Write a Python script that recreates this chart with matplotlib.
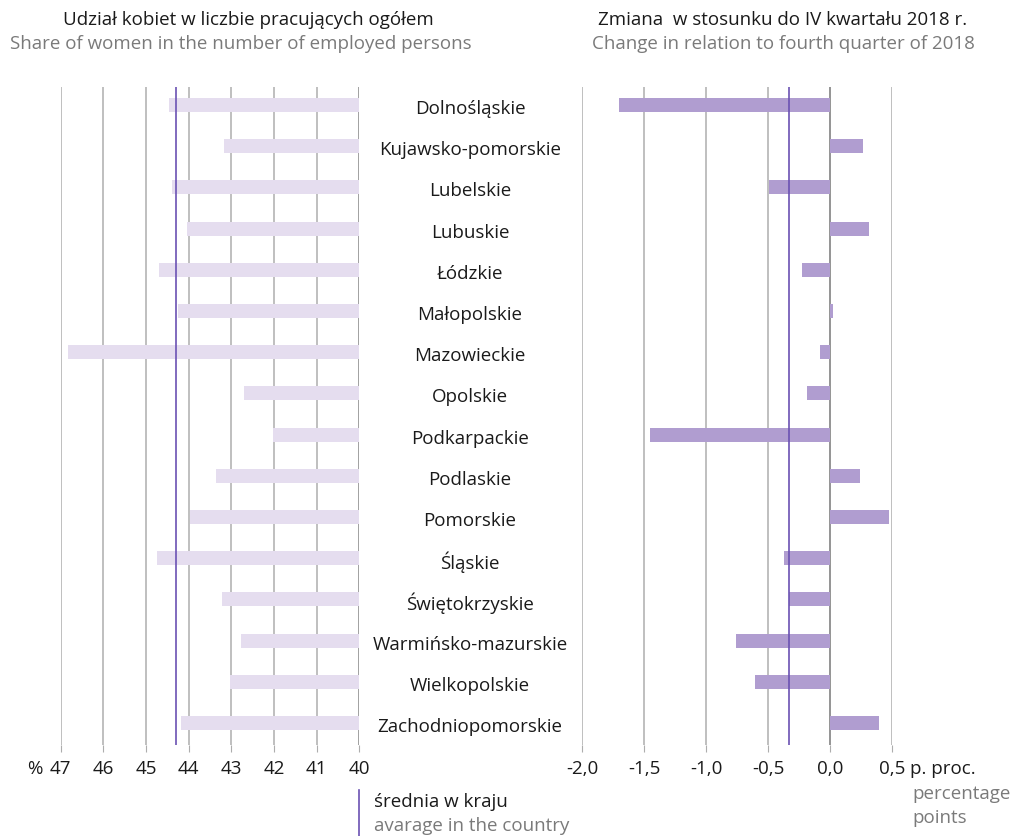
import numpy as np
import matplotlib
matplotlib.use("Agg")
import matplotlib.pyplot as plt
from matplotlib.ticker import FuncFormatter

plt.rcParams['font.family'] = ['Open Sans', 'DejaVu Sans']

regions = ["Dolnośląskie", "Kujawsko-pomorskie", "Lubelskie", "Lubuskie", "Łódzkie",
           "Małopolskie", "Mazowieckie", "Opolskie", "Podkarpackie", "Podlaskie",
           "Pomorskie", "Śląskie", "Świętokrzyskie", "Warmińsko-mazurskie",
           "Wielkopolskie", "Zachodniopomorskie"]
share = [44.45, 43.17, 44.38, 44.04, 44.69, 44.24, 46.83, 42.70,
         42.02, 43.36, 43.98, 44.74, 43.23, 42.78, 43.02, 44.18]
change = [-1.70, 0.26, -0.49, 0.31, -0.23, 0.02, -0.08, -0.19,
          -1.45, 0.24, 0.47, -0.37, -0.33, -0.76, -0.61, 0.39]
share_avg = 44.3
change_avg = -0.33

left_ticks = [47, 46, 45, 44, 43, 42, 41, 40]
right_ticks = [-2.0, -1.5, -1.0, -0.5, 0.0, 0.5]

light_bar = "#e5ddef"
dark_bar = "#b09dd0"
avg_col = "#6b52b3"
grid_col = "#adadad"
txt_gray = "#7a7a7a"
txt_dark = "#1a1a1a"
fs = 13.5

fig = plt.figure(figsize=(10.16, 8.36), dpi=100)
W, H = 1016, 836

def ax_rect(x0, x1, y0=87, y1=745):
    return [x0 / W, 1 - y1 / H, (x1 - x0) / W, (y1 - y0) / H]

ax1 = fig.add_axes(ax_rect(60.7, 359.3))
ax2 = fig.add_axes(ax_rect(582, 892.3))

y = np.arange(len(regions))
ylim = (15.534, -0.437)

# left panel
base = 40
ax1.barh(y, np.array(share) - base, left=base, height=0.34, color=light_bar, zorder=2)
ax1.set_xlim(47, 40)
for t in left_ticks:
    ax1.axvline(t, color=grid_col if t != 40 else "#888888", lw=1.1, zorder=1)
ax1.axvline(share_avg, color=avg_col, lw=1.2, zorder=3)

# right panel
ax2.barh(y, change, height=0.34, color=dark_bar, zorder=2)
ax2.set_xlim(-2.0, 0.5)
for t in right_ticks:
    ax2.axvline(t, color=grid_col if t != 0 else "#777777", lw=1.1, zorder=1)
ax2.axvline(change_avg, color=avg_col, lw=1.2, zorder=3)

for ax in (ax1, ax2):
    ax.set_ylim(*ylim)
    ax.set_yticks([])
    for s in ax.spines.values():
        s.set_visible(False)
    ax.tick_params(axis='x', length=5, color=grid_col, labelsize=fs, pad=6,
                   labelcolor=txt_dark)

ax1.set_xticks(left_ticks)
ax1.set_xticklabels([str(t) for t in left_ticks])
ax2.set_xticks(right_ticks)
ax2.xaxis.set_major_formatter(FuncFormatter(lambda v, p: f"{v:.1f}".replace(".", ",")))

# region names between panels
for i, name in enumerate(regions):
    fig.text(470 / W, 1 - (105 + i * 41.2 + 4) / H, name, ha='center', va='center',
             fontsize=fs, color=txt_dark)

# titles
fig.text(248 / W, 1 - 20 / H, "Udział kobiet w liczbie pracujących ogółem",
         ha='center', va='center', fontsize=fs, color=txt_dark)
fig.text(241 / W, 1 - 44 / H, "Share of women in the number of employed persons",
         ha='center', va='center', fontsize=fs, color=txt_gray)
fig.text(783 / W, 1 - 20 / H, "Zmiana  w stosunku do IV kwartału 2018 r.",
         ha='center', va='center', fontsize=fs, color=txt_dark)
fig.text(783 / W, 1 - 44 / H, "Change in relation to fourth quarter of 2018",
         ha='center', va='center', fontsize=fs, color=txt_gray)

# units
fig.text(42 / W, 1 - 769 / H, "%", ha='right', va='center', fontsize=fs, color=txt_dark)
fig.text(910 / W, 1 - 769 / H, "p. proc.", ha='left', va='center', fontsize=fs, color=txt_dark)
fig.text(912 / W, 1 - 794 / H, "percentage", ha='left', va='center', fontsize=fs, color=txt_gray)
fig.text(912 / W, 1 - 818 / H, "points", ha='left', va='center', fontsize=fs, color=txt_gray)

# legend for average line
fig.add_artist(plt.Line2D([359 / W, 359 / W], [1 - 790 / H, 0], color=avg_col, lw=1.2))
fig.text(374 / W, 1 - 802 / H, "średnia w kraju", ha='left', va='center', fontsize=fs, color=txt_dark)
fig.text(374 / W, 1 - 826 / H, "avarage in the country", ha='left', va='center', fontsize=fs, color=txt_gray)

fig.savefig("out.png", dpi=100)
